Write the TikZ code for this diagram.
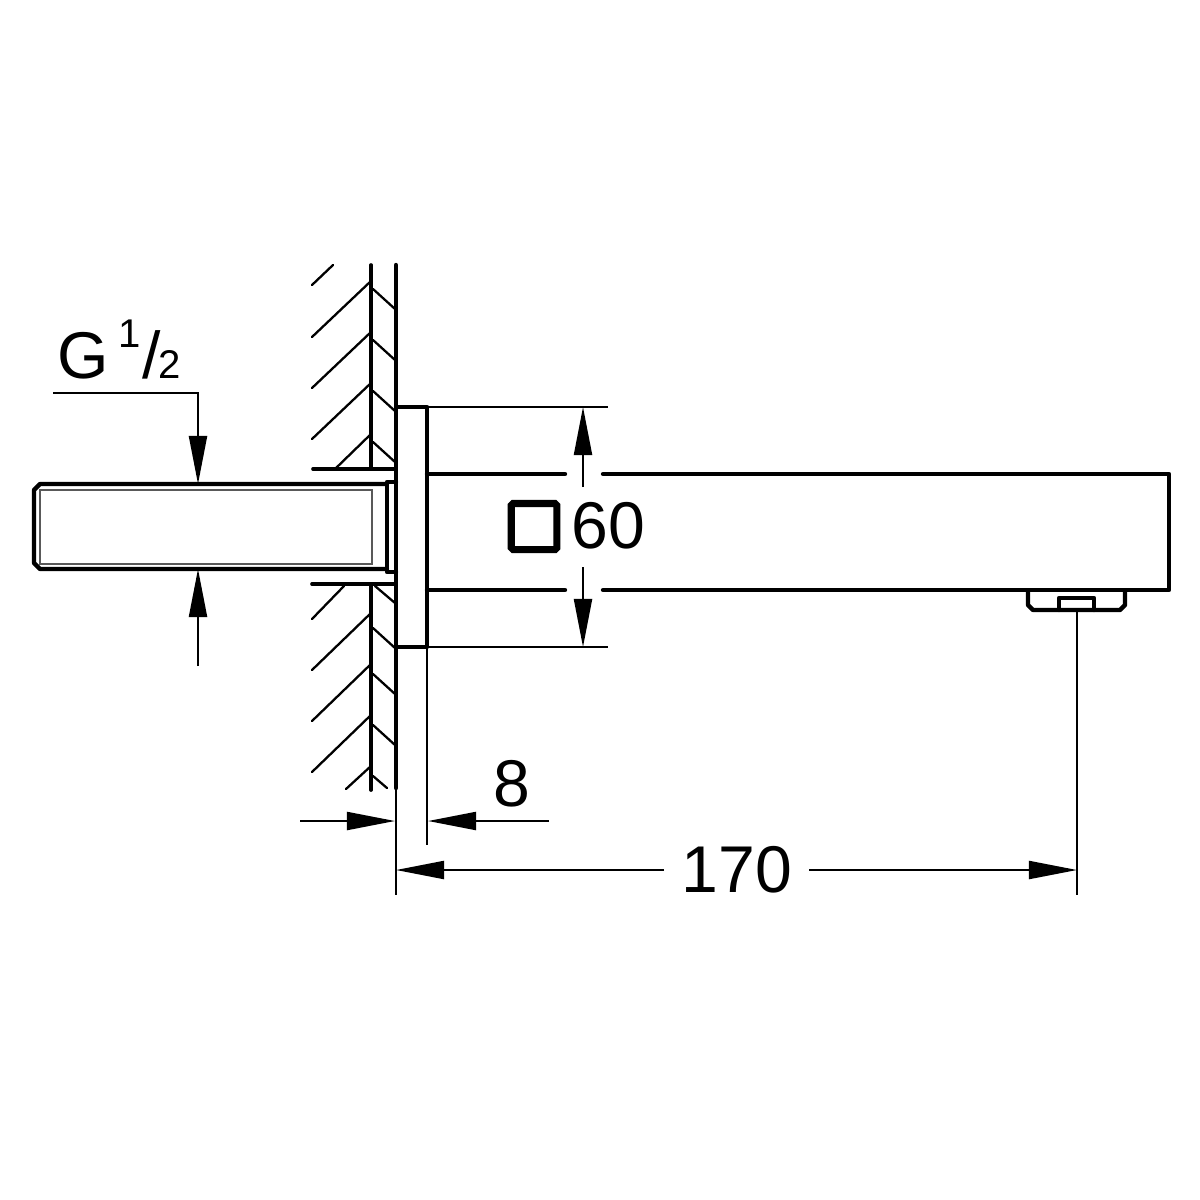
\documentclass[tikz,border=0pt]{standalone}
\usepackage{fontspec}
\setmainfont{Liberation Sans}
\usetikzlibrary{arrows.meta}
\begin{document}
\begin{tikzpicture}[
    x=0.01cm, y=-0.01cm,
    outline/.style={line width=1.25pt, line cap=round, line join=round},
    wall/.style={line width=1.05pt, line cap=round},
    hatch/.style={line width=0.65pt, line cap=round},
    thread/.style={line width=0.45pt, black!65},
    dimline/.style={line width=0.6pt},
    dimtip/.style={dimline, -{Triangle[length=0.48cm,width=0.18cm]}},
    dimtext/.style={font=\fontsize{18.8}{20}\selectfont, inner sep=0pt}
    ]
\useasboundingbox (0,0) rectangle (1200,1200);

%Wall
\draw[wall] (371,265) -- (371,469);
\draw[wall] (371,584) -- (371,790);
\draw[outline] (396,265) -- (396,788);
\foreach \ypos in {337,388,439} {
    \draw[hatch] (312,\ypos) -- (371,\ypos-56);
}
\draw[hatch] (312,285) -- (333,265);
\draw[hatch] (335,469) -- (371,434);
\draw[hatch] (312,619) -- (344,586);
\foreach \ypos in {670,721,772} {
    \draw[hatch] (312,\ypos) -- (371,\ypos-57);
}
\draw[hatch] (346,789) -- (371,766);
\foreach \ypos in {289,340,391,442,628,674,725} {
    \draw[hatch] (373,\ypos) -- (395,\ypos+20);
}
\draw[hatch] (375,586) -- (395,603);
\draw[hatch] (373,776) -- (387,788);

%Hole edges
\draw[wall] (313,469) -- (396,469);
\draw[wall] (312,584) -- (396,584);

%Threaded stub
\draw[outline] (387,484) -- (40,484) -- (34,490) -- (34,563) -- (40,569) -- (387,569);
\draw[thread] (372,490) -- (40,490) -- (40,564) -- (372,564) -- cycle;
\draw[outline] (396,482) -- (387,482) -- (387,572) -- (396,572);

%Flange
\draw[outline] (396,407) -- (427,407) -- (427,647) -- (396,647);
\coordinate (flangeTop) at (427,407);
\coordinate (flangeBottom) at (427,647);
\coordinate (flangeEnd) at (427,845);
\coordinate (wallEnd) at (396,895);
\draw[dimline] (flangeTop) -- (608,407);
\draw[dimline] (flangeBottom) -- (608,647);
\draw[dimline] (flangeBottom) -- (flangeEnd);
\draw[dimline] (396,788) -- (wallEnd);

%Spout
\draw[outline] (427,474) -- (565,474);
\draw[outline] (427,590) -- (565,590);
\draw[outline] (603,474) -- (1169,474) -- (1169,590) -- (603,590);
\draw[outline] (1028,591) -- (1028,605) -- (1033,610) -- (1120,610) -- (1125,605) -- (1125,591);
\draw[outline] (1059,610) -- (1059,598) -- (1094,598) -- (1094,610);
\draw[dimline] (1077,610) -- (1077,895);

%Dimension G
\node[dimtext, anchor=base west] (gLabel) at (57,378) {G\kern 0.14em\raisebox{0.46em}{\fontsize{11.4}{12}\selectfont 1}\kern 0.02em/\kern -0.03em{\fontsize{11.4}{12}\selectfont 2}};
\coordinate (gStart) at (53,393);
\coordinate (gTop) at (198,484);
\coordinate (gBottom) at (198,569);
\coordinate (gEnd) at (198,666);
\draw[dimtip] (gStart) -| (gTop);
\draw[dimtip] (gEnd) -- (gBottom);

%Dimension 60
\node[draw, line width=2pt, minimum width=0.455cm, minimum height=0.46cm, inner sep=0pt, rounded corners=0.5pt] (squareMark) at (534,526.5) {};
\node[dimtext, anchor=west] (sideLabel) at (571,526) {60};
\coordinate (sideTop) at (583,407);
\coordinate (sideBottom) at (583,647);
\draw[dimtip] (583,487) -- (sideTop);
\draw[dimtip] (583,567) -- (sideBottom);

%Dimension 8
\node[dimtext] (plateLabel) at (512,784) {8};
\coordinate (plateLeft) at (395,821);
\coordinate (plateRight) at (428,821);
\draw[dimtip] (300,821) -- (plateLeft);
\draw[dimtip] (549,821) -- (plateRight);

%Dimension 170
\node[dimtext] (reachLabel) at (737,870) {170};
\coordinate (reachLeft) at (396,870);
\coordinate (reachRight) at (1077,870);
\draw[dimtip] (664,870) -- (reachLeft);
\draw[dimtip] (809,870) -- (reachRight);
\end{tikzpicture}
\end{document}
